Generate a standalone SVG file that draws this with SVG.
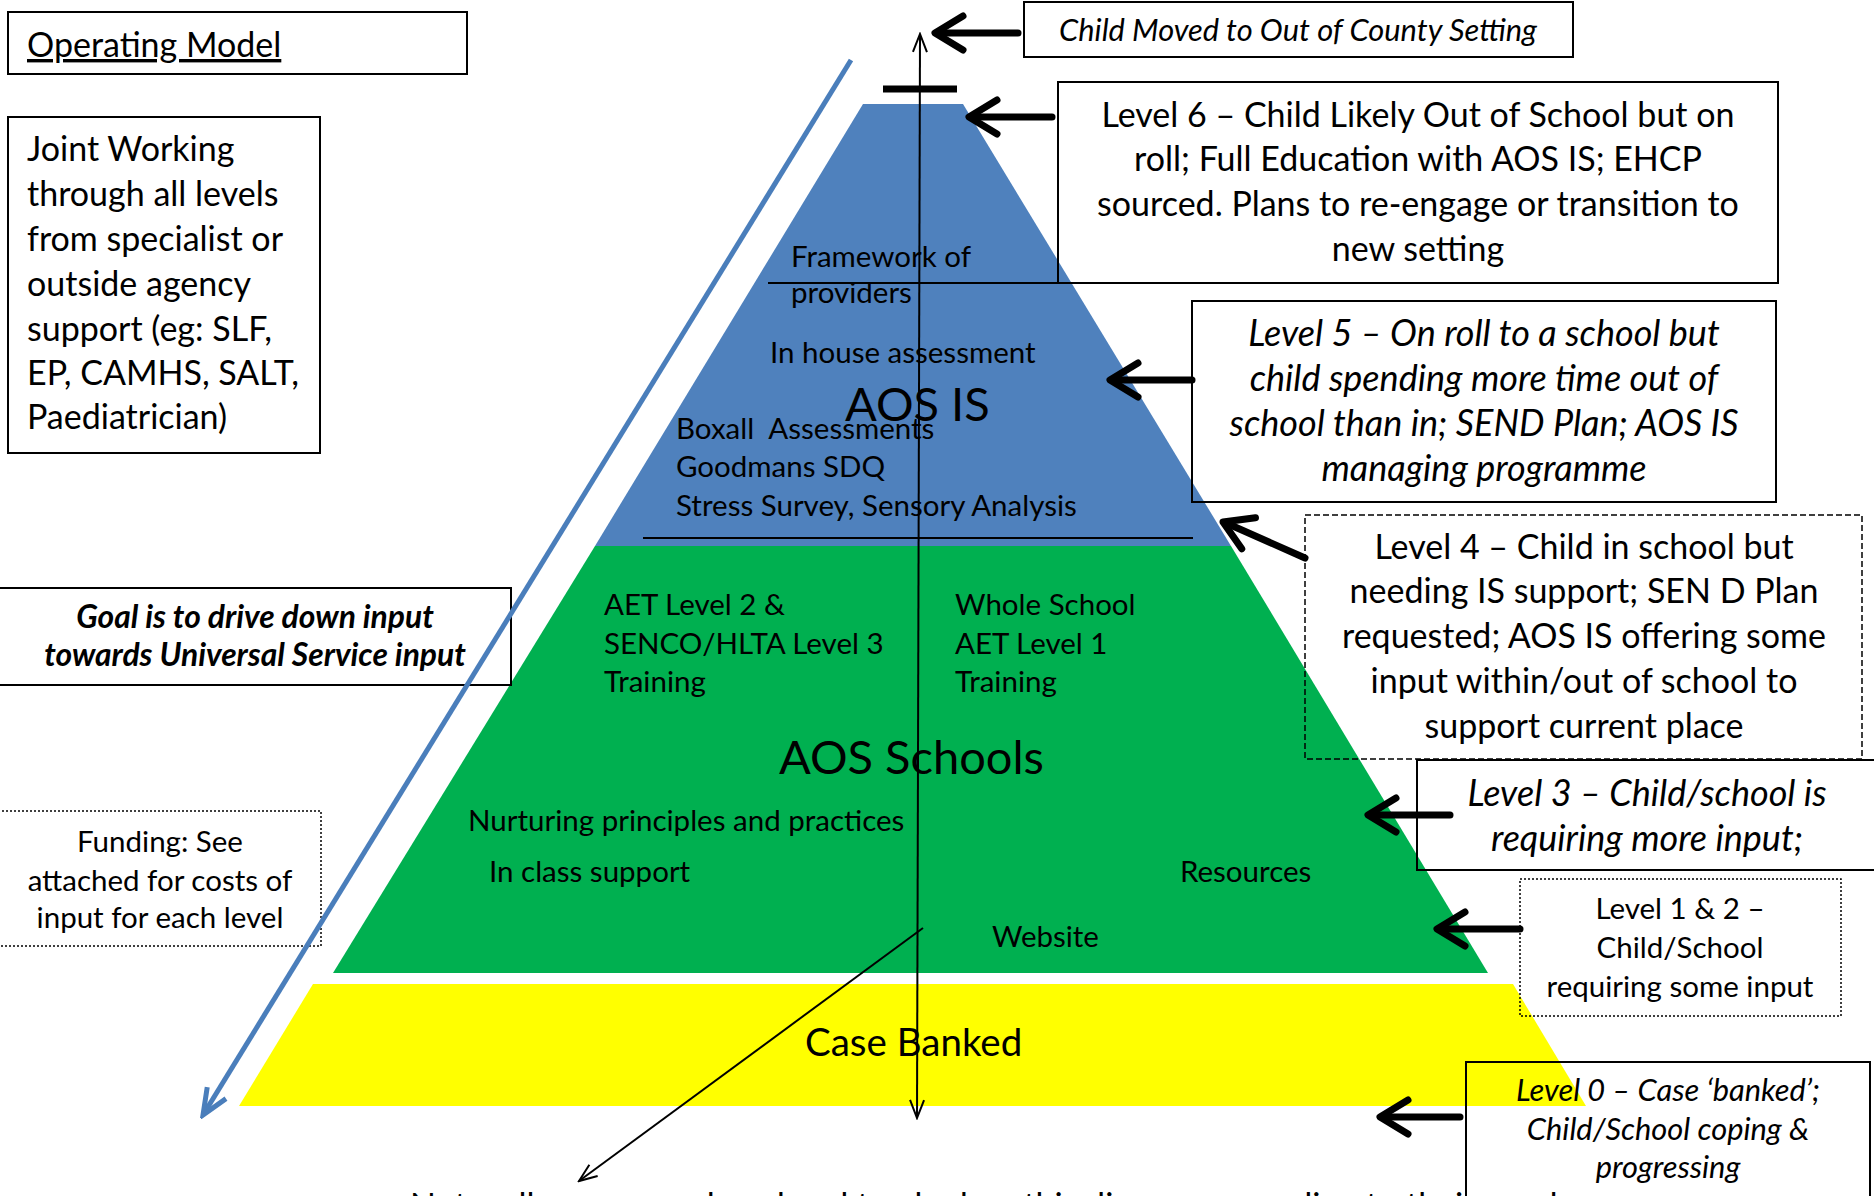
<svg xmlns="http://www.w3.org/2000/svg" width="1874" height="1196" viewBox="0 0 1874 1196">
<style>
text{font-family:Lato,"Open Sans","DejaVu Sans",sans-serif;fill:#000}
.L{font-size:34px}
.M{font-size:29.5px}
.Li{font-size:36px;font-style:italic}
.Mi{font-size:30.8px;font-style:italic}
.Gb{font-size:31.8px;font-style:italic;font-weight:bold}
.XL{font-size:47px}
.CB{font-size:38.5px}
.c{text-anchor:middle}
.pre{white-space:pre}
.box{fill:none;stroke:#000;stroke-width:2}
.dash{fill:none;stroke:#000;stroke-width:1.5;stroke-dasharray:6 3}
.dot{fill:none;stroke:#000;stroke-width:1.5;stroke-dasharray:2 2}
.fat{fill:none;stroke:#000;stroke-width:7;stroke-linecap:round;stroke-linejoin:round}
.thin{fill:none;stroke:#000;stroke-width:2}
</style>
<defs>
<marker id="open" markerUnits="userSpaceOnUse" viewBox="-21 -10 23 20" markerWidth="23" markerHeight="20" refX="0" refY="0" orient="auto-start-reverse">
<path d="M-18,-7 L0,0 L-18,7" fill="none" stroke="#000" stroke-width="2"/>
</marker>
<marker id="blueHead" markerUnits="userSpaceOnUse" viewBox="-30 -15 34 30" markerWidth="34" markerHeight="30" refX="0" refY="0" orient="auto">
<path d="M-26,-11 L0,0 L-26,11" fill="none" stroke="#4A7EBB" stroke-width="5"/>
</marker>
<path id="chev" d="M28,-17 L0,0 L28,17"/>
</defs>

<g id="pyramid">
<polygon id="tier-ais" points="863,104 963,104 1231,546 595,546" fill="#4F81BD"/>
<polygon id="tier-schools" points="595,546 1231,546 1488,973 333,973" fill="#00B050"/>
<polygon id="tier-banked" points="313,984 1513,984 1586,1106 239,1106" fill="#FFFF00"/>
<line x1="768" y1="283" x2="1058" y2="283" class="thin"/>
<line x1="643" y1="538" x2="1193" y2="538" class="thin"/>
<line x1="883" y1="89" x2="957" y2="89" stroke="#000" stroke-width="7"/>
</g>

<g id="ais-text">
<text class="M" x="791" y="267">Framework of</text>
<text class="M" x="791" y="303">providers</text>
<text class="M" x="770" y="363">In house assessment</text>
<text class="XL" x="845" y="421">AOS IS</text>
<text class="M pre" x="676" y="439">Boxall  Assessments</text>
<text class="M" x="676" y="477">Goodmans SDQ</text>
<text class="M" x="676" y="516">Stress Survey, Sensory Analysis</text>
</g>

<g id="schools-text">
<text class="M" x="604" y="615">AET Level 2 &amp;</text>
<text class="M" x="604" y="654">SENCO/HLTA Level 3</text>
<text class="M" x="604" y="692">Training</text>
<text class="M" x="955" y="615">Whole School</text>
<text class="M" x="955" y="654">AET Level 1</text>
<text class="M" x="955" y="692">Training</text>
<text class="XL" x="779" y="774">AOS Schools</text>
<text class="M" x="468" y="831">Nurturing principles and practices</text>
<text class="M" x="489" y="882">In class support</text>
<text class="M" x="1180" y="882">Resources</text>
<text class="M" x="992" y="947">Website</text>
</g>

<g id="banked-text">
<text class="CB" x="805" y="1056">Case Banked</text>
</g>

<g id="operating-model">
<rect x="8" y="12" width="459" height="62" class="box"/>
<text class="L" x="27" y="57" text-decoration="underline">Operating Model</text>
</g>

<g id="joint-working">
<rect x="8" y="117" width="312" height="336" class="box"/>
<text class="L" x="27" y="161">Joint Working</text>
<text class="L" x="27" y="206">through all levels</text>
<text class="L" x="27" y="251">from specialist or</text>
<text class="L" x="27" y="296">outside agency</text>
<text class="L" x="27" y="341">support (eg: SLF,</text>
<text class="L" x="27" y="385">EP, CAMHS, SALT,</text>
<text class="L" x="27" y="429">Paediatrician)</text>
</g>

<g id="goal">
<rect x="-2" y="588" width="513" height="97" class="box"/>
<text class="Gb c" x="255" y="628">Goal is to drive down input</text>
<text class="Gb c" x="255" y="666">towards Universal Service input</text>
</g>

<g id="funding">
<rect x="-2" y="811" width="323" height="135" class="dot"/>
<text class="M c" x="160" y="852">Funding: See</text>
<text class="M c" x="160" y="891">attached for costs of</text>
<text class="M c" x="160" y="928">input for each level</text>
</g>

<g id="out-of-county">
<rect x="1024" y="2" width="549" height="55" class="box"/>
<text class="Mi c" x="1298" y="41">Child Moved to Out of County Setting</text>
</g>

<g id="level6">
<rect x="1058" y="82" width="720" height="201" class="box"/>
<text class="L c" x="1418" y="127">Level 6 – Child Likely Out of School but on</text>
<text class="L c" x="1418" y="171">roll; Full Education with AOS IS; EHCP</text>
<text class="L c" x="1418" y="216">sourced. Plans to re-engage or transition to</text>
<text class="L c" x="1418" y="261">new setting</text>
</g>

<g id="level5">
<rect x="1192" y="301" width="584" height="201" class="box"/>
<text class="Li c" x="1484" y="346">Level 5 – On roll to a school but</text>
<text class="Li c" x="1484" y="391">child spending more time out of</text>
<text class="Li c" x="1484" y="436">school than in; SEND Plan; AOS IS</text>
<text class="Li c" x="1484" y="481">managing programme</text>
</g>

<g id="level4">
<rect x="1305" y="515" width="557" height="244" class="dash"/>
<text class="L c" x="1584" y="559">Level 4 – Child in school but</text>
<text class="L c" x="1584" y="603">needing IS support; SEN D Plan</text>
<text class="L c" x="1584" y="648">requested; AOS IS offering some</text>
<text class="L c" x="1584" y="693">input within/out of school to</text>
<text class="L c" x="1584" y="738">support current place</text>
</g>

<g id="level3">
<rect x="1417" y="760" width="470" height="110" class="box"/>
<text class="Li c" x="1647" y="806">Level 3 – Child/school is</text>
<text class="Li c" x="1647" y="851">requiring more input;</text>
</g>

<g id="level12">
<rect x="1520" y="879" width="321" height="137" class="dot"/>
<text class="M c" x="1680" y="919">Level 1 &amp; 2 –</text>
<text class="M c" x="1680" y="958">Child/School</text>
<text class="M c" x="1680" y="997">requiring some input</text>
</g>

<g id="level0">
<rect x="1466" y="1062" width="404" height="160" class="box"/>
<text class="Mi c" x="1668" y="1101">Level 0 – Case ‘banked’;</text>
<text class="Mi c" x="1668" y="1140">Child/School coping &amp;</text>
<text class="Mi c" x="1668" y="1178">progressing</text>
</g>

<g id="note">
<text class="L" x="410" y="1218">Note: all cases are placed and tracked on this diagram according to their need</text>
</g>

<g id="connectors">
<line x1="851" y1="60" x2="203" y2="1115" stroke="#4A7EBB" stroke-width="5" marker-end="url(#blueHead)"/>
<line x1="920" y1="34" x2="917" y2="1118" class="thin" marker-start="url(#open)" marker-end="url(#open)"/>
<line x1="923" y1="928" x2="579" y2="1181" class="thin" marker-end="url(#open)"/>
<path d="M1018,33 L937,33" class="fat"/><use href="#chev" class="fat" transform="translate(935,33)"/>
<path d="M1052,117 L971,117" class="fat"/><use href="#chev" class="fat" transform="translate(969,117)"/>
<path d="M1192,380 L1112,380" class="fat"/><use href="#chev" class="fat" transform="translate(1110,380)"/>
<path d="M1305,558 L1226,523" class="fat"/><use href="#chev" class="fat" transform="translate(1223,522) rotate(23.8)"/>
<path d="M1450,815 L1370,815" class="fat"/><use href="#chev" class="fat" transform="translate(1368,815)"/>
<path d="M1520,929 L1439,929" class="fat"/><use href="#chev" class="fat" transform="translate(1437,929)"/>
<path d="M1460,1117 L1382,1117" class="fat"/><use href="#chev" class="fat" transform="translate(1380,1117)"/>
</g>
</svg>
